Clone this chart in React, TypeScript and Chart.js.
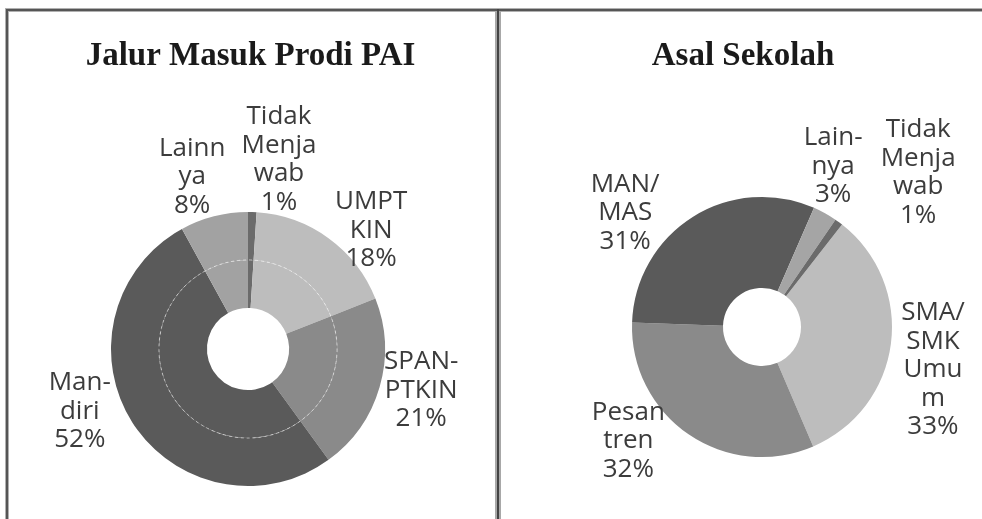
import React, { useEffect, useRef } from "react";
import { Chart, registerables } from "chart.js";

Chart.register(...registerables);

// ---- Data: Jalur Masuk Prodi PAI ----
const jalurTitle = "Jalur Masuk Prodi PAI";
const jalurCategories = ["Tidak Menjawab", "UMPTKIN", "SPAN-PTKIN", "Mandiri", "Lainnya"];
const jalurValues = [1, 18, 21, 52, 8];
const jalurLabelLines = [["Tidak", "Menja", "wab"], ["UMPT", "KIN"], ["SPAN-", "PTKIN"], ["Man-", "diri"], ["Lainn", "ya"]];

// ---- Data: Asal Sekolah ----
const sekolahTitle = "Asal Sekolah";
const sekolahCategories = ["SMA/SMK Umum", "Pesantren", "MAN/MAS", "Lainnya", "Tidak Menjawab"];
const sekolahValues = [33, 32, 31, 3, 1];
const sekolahLabelLines = [["SMA/", "SMK", "Umu", "m"], ["Pesan", "tren"], ["MAN/", "MAS"], ["Lain-", "nya"], ["Tidak", "Menja", "wab"]];

// ---- Styles / layout (not data) ----
const jalurColors = ["#6b6b6b", "#bdbdbd", "#8a8a8a", "#5a5a5a", "#a2a2a2"];
const sekolahColors = ["#bdbdbd", "#8a8a8a", "#5a5a5a", "#a5a5a5", "#6b6b6b"];
// [angle nudge in degrees from slice middle, distance as multiple of outer radius]
const jalurLabelPlace = [[7.5, 1.4], [10.1, 1.247], [-2.7, 1.3], [12, 1.31], [-3.6, 1.32]];
const sekolahLabelPlace = [[6.7, 1.356], [15.2, 1.35], [-18, 1.37], [-5.1, 1.35], [9.1, 1.69]];

const panelPlugin = {
  id: "panelText",
  afterDatasetsDraw(chart: any, _args: any, opts: any) {
    const ctx = chart.ctx as CanvasRenderingContext2D;
    const n = chart.data.datasets.length;
    const outerMeta = chart.getDatasetMeta(0);
    if (opts.dashedRing && n > 1) {
      const a: any = outerMeta.data[0];
      ctx.save();
      ctx.beginPath();
      ctx.arc(a.x, a.y, a.innerRadius, 0, Math.PI * 2);
      ctx.setLineDash([3, 3]);
      ctx.strokeStyle = "rgba(255,255,255,0.55)";
      ctx.lineWidth = 1;
      ctx.stroke();
      ctx.restore();
    }
    const values: number[] = chart.data.datasets[0].data;
    const total = values.reduce((s, v) => s + v, 0);
    ctx.save();
    ctx.font = "26px 'Open Sans'";
    ctx.fillStyle = "#3c3c3c";
    ctx.textAlign = "center";
    ctx.textBaseline = "middle";
    const lh = 28.5;
    outerMeta.data.forEach((arc: any, i: number) => {
      const p = arc.getProps(["x", "y", "startAngle", "endAngle", "outerRadius"], true);
      const place = opts.place[i];
      const mid = (p.startAngle + p.endAngle) / 2 + (place[0] * Math.PI) / 180;
      const d = place[1] * p.outerRadius;
      const cx = p.x + d * Math.cos(mid);
      const cy = p.y + d * Math.sin(mid);
      const lines = [...opts.lines[i], Math.round((values[i] / total) * 100) + "%"];
      const top = cy - ((lines.length - 1) * lh) / 2;
      lines.forEach((t: string, k: number) => ctx.fillText(t, cx, top + k * lh));
    });
    ctx.restore();
    // title
    ctx.save();
    ctx.font = "bold 33px 'Liberation Serif'";
    ctx.fillStyle = "#1a1a1a";
    ctx.textAlign = "center";
    ctx.textBaseline = "alphabetic";
    ctx.fillText(opts.title, opts.titleX, opts.titleY);
    ctx.restore();
  },
};

function DoughnutPanel(props: {
  title: string;
  categories: string[];
  values: number[];
  colors: string[];
  lines: string[][];
  place: number[][];
  rings: number;
  rotation: number;
  width: number;
  height: number;
  padding: { left: number; right: number; top: number; bottom: number };
  titleX: number;
  titleY: number;
  style: React.CSSProperties;
}) {
  const ref = useRef<HTMLCanvasElement | null>(null);
  useEffect(() => {
    if (!ref.current) return;
    const datasets = [];
    for (let r = 0; r < props.rings; r++) {
      datasets.push({
        label: props.title,
        data: props.values,
        backgroundColor: props.colors,
        borderWidth: 0,
        hoverOffset: 0,
      });
    }
    const chart = new Chart(ref.current, {
      type: "doughnut",
      data: { labels: props.categories, datasets },
      options: {
        responsive: false,
        maintainAspectRatio: false,
        animation: false,
        devicePixelRatio: 1,
        cutout: "30%",
        rotation: props.rotation,
        layout: { padding: props.padding },
        plugins: {
          legend: { display: false },
          title: { display: false },
          tooltip: { enabled: false },
          panelText: {
            dashedRing: props.rings > 1,
            lines: props.lines,
            place: props.place,
            title: props.title,
            titleX: props.titleX,
            titleY: props.titleY,
          },
        } as any,
      },
      plugins: [panelPlugin],
    });
    return () => chart.destroy();
  }, []);
  return <canvas ref={ref} width={props.width} height={props.height} style={{ position: "absolute", ...props.style }} />;
}

export default function App() {
  const dark = "#555555";
  const light = "#b0b0b0";
  const abs = (s: React.CSSProperties): React.CSSProperties => ({ position: "absolute", ...s });
  return (
    <div style={{ position: "fixed", left: 0, top: 0, width: 982, height: 519, overflow: "hidden", background: "#ffffff" }}>
      <DoughnutPanel
        title={jalurTitle}
        categories={jalurCategories}
        values={jalurValues}
        colors={jalurColors}
        lines={jalurLabelLines}
        place={jalurLabelPlace}
        rings={2}
        rotation={0}
        width={486}
        height={507}
        padding={{ left: 102, right: 110, top: 200, bottom: 33 }}
        titleX={241.5}
        titleY={53}
        style={{ left: 9, top: 12 }}
      />
      <DoughnutPanel
        title={sekolahTitle}
        categories={sekolahCategories}
        values={sekolahValues}
        colors={sekolahColors}
        lines={sekolahLabelLines}
        place={sekolahLabelPlace}
        rings={1}
        rotation={38}
        width={481}
        height={507}
        padding={{ left: 131, right: 90, top: 185, bottom: 62 }}
        titleX={242}
        titleY={53}
        style={{ left: 501, top: 12 }}
      />
      <div style={abs({ left: 5, top: 8, width: 977, height: 1, background: light })} />
      <div style={abs({ left: 6, top: 9, width: 976, height: 2, background: dark })} />
      <div style={abs({ left: 8, top: 11, width: 974, height: 1, background: light })} />
      <div style={abs({ left: 5, top: 8, width: 1, height: 511, background: light })} />
      <div style={abs({ left: 6, top: 9, width: 2, height: 510, background: dark })} />
      <div style={abs({ left: 8, top: 11, width: 1, height: 508, background: light })} />
      <div style={abs({ left: 495, top: 11, width: 2, height: 508, background: "#a8a8a8" })} />
      <div style={abs({ left: 497, top: 9, width: 2, height: 510, background: "#444444" })} />
      <div style={abs({ left: 499, top: 11, width: 2, height: 508, background: "#a8a8a8" })} />
    </div>
  );
}
